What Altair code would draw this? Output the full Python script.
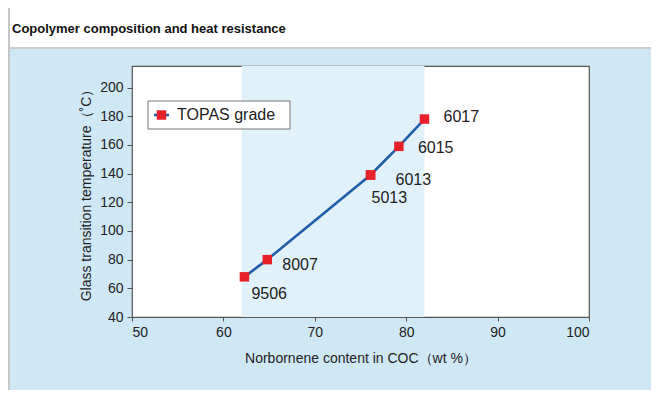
import altair as alt
import pandas as pd

# ---- data ----
grades = ["9506", "8007", "5013", "6013", "6015", "6017"]
norbornene = [62.3, 64.8, 76.1, 76.1, 79.2, 82.0]   # wt %
tg = [68, 80, 139, 139, 159, 178]                    # deg C
band_range = [62, 82]
x_ticks = [50, 60, 70, 80, 90, 100]
y_ticks = [40, 60, 80, 100, 120, 140, 160, 180, 200]

df = pd.DataFrame({"grade": grades, "x": norbornene, "y": tg})
band_df = pd.DataFrame({"x0": [band_range[0]], "x1": [band_range[1]]})

FONT = "Liberation Sans"
BLUE_BG = "#cfe8f5"
BAND = "#e0f1fa"
LINE = "#1f5ea8"
RED = "#e8202a"

W, H = 457, 251
PAD = {"left": 124, "top": 58, "right": 62, "bottom": 73}

xs = alt.Scale(domain=[50, 100], nice=False, zero=False)
ys = alt.Scale(domain=[40, 215], nice=False, zero=False)
xaxis = alt.Axis(values=x_ticks, title="Norbornene content in COC（wt %）",
                 titlePadding=12, labelPadding=4, labelOverlap=False, tickSize=4)
yaxis = alt.Axis(values=y_ticks, title="Glass transition temperature（˚C）",
                 titlePadding=6, labelPadding=4, labelOverlap=False, tickSize=5)


def X(field):
    return alt.X(field, scale=xs, axis=xaxis)


def Y(field):
    return alt.Y(field, scale=ys, axis=yaxis)


base = alt.Chart(df)

band = alt.Chart(band_df).mark_rect(color=BAND).encode(
    x=X("x0:Q"), x2="x1:Q", y=alt.value(0), y2=alt.value(H))

line = base.mark_line(color=LINE, strokeWidth=2.6).encode(x=X("x:Q"), y=Y("y:Q"), order="x:Q")
pts = base.mark_point(shape="square", filled=True, color=RED, size=90, opacity=1).encode(
    x=X("x:Q"), y=Y("y:Q"))

offsets = {"6017": (19, -2), "6015": (19, 2), "6013": (25, 5),
           "5013": (1, 23), "8007": (15, 5), "9506": (7, 17)}
labels = []
for g, (dx, dy) in offsets.items():
    labels.append(base.transform_filter(alt.datum.grade == g).mark_text(
        align="left", baseline="middle", dx=dx, dy=dy, fontSize=16, font=FONT,
        color="#222").encode(x=X("x:Q"), y=Y("y:Q"), text="grade:N"))

# decorations: title band, legend box
deco = alt.Chart(pd.DataFrame({"t": ["Copolymer composition and heat resistance"]}))
title_band = deco.mark_rect(color="white").encode(
    x=alt.value(-124), x2=alt.value(W + PAD["right"]), y=alt.value(-58), y2=alt.value(-19))
title_sep = deco.mark_rect(color="#c9cdd0").encode(
    x=alt.value(-124), x2=alt.value(W + PAD["right"]), y=alt.value(-19), y2=alt.value(-17))
left_strip = deco.mark_rect(color="#c4c6c8").encode(
    x=alt.value(-124), x2=alt.value(-122), y=alt.value(-58), y2=alt.value(H + PAD["bottom"]))
title_txt = deco.mark_text(align="left", baseline="middle", fontSize=13, fontWeight="bold",
                           font=FONT, color="#111").encode(
    x=alt.value(-120), y=alt.value(-37), text="t:N")

leg = alt.Chart(pd.DataFrame({"t": ["TOPAS grade"]}))
leg_box = leg.mark_rect(fill="white", stroke="#777", strokeWidth=1).encode(
    x=alt.value(16), x2=alt.value(158), y=alt.value(35), y2=alt.value(63))
leg_line = leg.mark_rule(color=LINE, strokeWidth=2.6).encode(
    x=alt.value(22), x2=alt.value(37), y=alt.value(49))
leg_pt = leg.mark_point(shape="square", filled=True, color=RED, size=90, opacity=1).encode(
    x=alt.value(29.5), y=alt.value(49))
leg_txt = leg.mark_text(align="left", baseline="middle", fontSize=16, font=FONT,
                        color="#222").encode(x=alt.value(45), y=alt.value(49), text="t:N")

chart = alt.layer(
    title_band, title_sep, left_strip, title_txt,
    band, line, pts, *labels,
    leg_box, leg_line, leg_pt, leg_txt,
).properties(
    width=W, height=H, padding=PAD,
    autosize=alt.AutoSizeParams(type="none"),
    background=BLUE_BG,
).configure_view(
    fill="white", stroke="#555", strokeWidth=1.2
).configure_axis(
    domain=False, grid=False, ticks=True, tickColor="#555",
    labelFont=FONT, labelFontSize=14, labelColor="#222",
    titleFont=FONT, titleFontSize=14, titleFontWeight="normal", titleColor="#222",
)

chart.save("out.html", embed_options={"renderer": "svg", "actions": False})
